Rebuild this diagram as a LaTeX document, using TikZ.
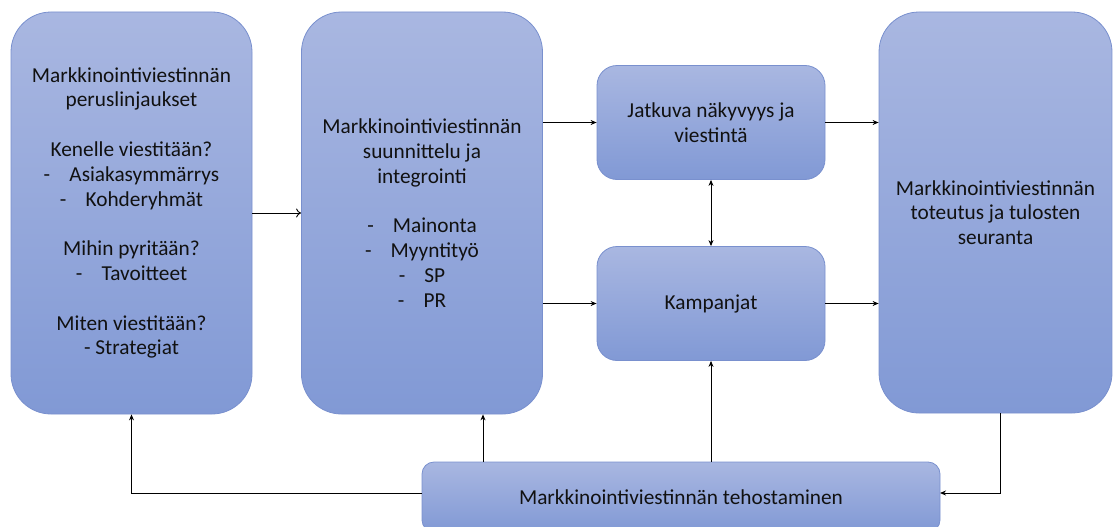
\documentclass[tikz,border=0pt]{standalone}
\usepackage{fontspec}
\setmainfont{Carlito}
\usetikzlibrary{arrows.meta}
\definecolor{boxtop}{HTML}{A9B7E1}
\definecolor{boxbot}{HTML}{8199D5}
\definecolor{boxline}{HTML}{7990CE}
\definecolor{txt}{HTML}{111111}
\tikzset{
  box/.style={draw=boxline, line width=0.8pt, top color=boxtop, bottom color=boxbot,
    align=center, text=txt, inner sep=0pt, font=\fontsize{21.3}{24.8}\selectfont},
  bigbox/.style={box, rounded corners=40pt, minimum width=241pt, minimum height=402pt},
  midbox/.style={box, rounded corners=20pt, minimum width=228pt, minimum height=114pt},
  arr/.style={line width=0.9pt, draw=black, -{Stealth[length=6pt,width=5pt]}},
  arrb/.style={line width=0.9pt, draw=black, {Stealth[length=6pt,width=5pt]}-{Stealth[length=6pt,width=5pt]}},
  openarr/.style={line width=0.9pt, draw=black, -{To[length=5pt,width=9pt]}}
}
\begin{document}
\begin{tikzpicture}[x=1pt,y=-1pt]
\useasboundingbox (0,0) rectangle (1113,527);
\begin{scope}
\clip (0,0) rectangle (1113,527);
\node[bigbox] (A) at (131.5,213) {Markkinointiviestinnän\\peruslinjaukset\\[24.8pt]Kenelle viestitään?\\-\hspace{0.9em}Asiakasymmärrys\\-\hspace{0.9em}Kohderyhmät\\[24.8pt]Mihin pyritään?\\-\hspace{0.9em}Tavoitteet\\[24.8pt]Miten viestitään?\\- Strategiat};
\node[bigbox] (B) at (422,213) {Markkinointiviestinnän\\suunnittelu ja\\integrointi\\[24.8pt]-\hspace{0.9em}Mainonta\\-\hspace{0.9em}Myyntityö\\-\hspace{0.9em}SP\\-\hspace{0.9em}PR};
\node[midbox] (C) at (711,122.5) {Jatkuva näkyvyys ja\\viestintä};
\node[midbox] (D) at (711,303.5) {Kampanjat};
\node[bigbox, minimum width=233pt, minimum height=401pt] (E) at (995.5,212.5) {Markkinointiviestinnän\\toteutus ja tulosten\\seuranta};
\node[box, rounded corners=12pt, minimum width=518pt, minimum height=70pt] (F) at (681,497) {Markkinointiviestinnän tehostaminen};
\end{scope}
\coordinate (fb) at (483,462);
\draw[openarr] (A.east) -- (B.west);
\draw[arr] (B.east |- C.west) -- (C.west);
\draw[arr] (B.east |- D.west) -- (D.west);
\draw[arrb] (C.south) -- (D.north);
\draw[arr] (C.east) -- (E.west |- C.east);
\draw[arr] (D.east) -- (E.west |- D.east);
\coordinate (eb) at (1000,413);
\coordinate (fe) at (940,493);
\draw[arr] (eb) |- (fe);
\coordinate (fw) at (422,493);
\draw[arr] (fw) -| (A.south);
\draw[arr] (fb) -- (fb |- B.south);
\draw[arr] (F.north -| D.south) -- (D.south);
\end{tikzpicture}
\end{document}
